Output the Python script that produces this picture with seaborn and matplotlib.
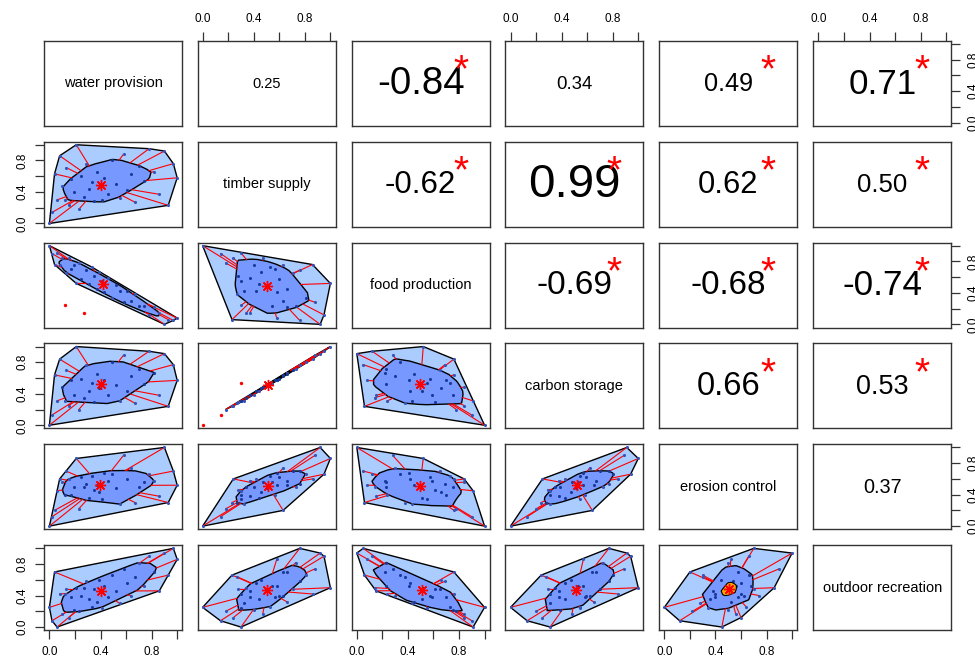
import numpy as np
import pandas as pd
import matplotlib
matplotlib.use("Agg")
import matplotlib.pyplot as plt
import seaborn as sns
from matplotlib.path import Path
from matplotlib.patches import Polygon

# ---------------- data (read/estimated from the reference) ----------------
variables = ["water provision", "timber supply", "food production",
             "carbon storage", "erosion control", "outdoor recreation"]

water_provision = [0.00, 0.02, 0.04, 0.06, 0.08, 0.10, 0.12, 0.13, 0.15, 0.17,
                   0.19, 0.21, 0.23, 0.25, 0.27, 0.29, 0.31, 0.33, 0.35, 0.37,
                   0.39, 0.41, 0.43, 0.46, 0.49, 0.52, 0.55, 0.58, 0.61, 0.64,
                   0.67, 0.70, 0.74, 0.78, 0.82, 0.86, 0.90, 0.93, 0.97, 1.00]
timber_supply = [0.00, 0.14, 0.63, 0.30, 0.86, 0.47, 0.30, 0.71, 0.24, 0.57,
                 0.40, 1.00, 0.18, 0.60, 0.34, 0.76, 0.44, 0.53, 0.28, 0.66,
                 0.46, 0.30, 0.58, 0.37, 0.81, 0.50, 0.32, 0.88, 0.42, 0.63,
                 0.27, 0.73, 0.54, 0.95, 0.66, 0.37, 0.92, 0.23, 0.76, 0.58]
food_production = [1.00, 0.90, 0.76, 0.91, 0.76, 0.84, 0.24, 0.65, 0.84, 0.70,
                   0.75, 0.52, 0.78, 0.57, 0.14, 0.69, 0.51, 0.73, 0.61, 0.45,
                   0.66, 0.55, 0.41, 0.59, 0.34, 0.50, 0.43, 0.28, 0.42, 0.30,
                   0.38, 0.23, 0.23, 0.12, 0.22, 0.15, 0.00, 0.06, 0.05, 0.08]
carbon_storage = [0.00, 0.13, 0.64, 0.31, 0.84, 0.48, 0.31, 0.70, 0.25, 0.58,
                  0.39, 1.00, 0.20, 0.59, 0.35, 0.77, 0.43, 0.54, 0.29, 0.65,
                  0.47, 0.54, 0.57, 0.38, 0.80, 0.51, 0.31, 0.89, 0.43, 0.62,
                  0.28, 0.72, 0.53, 0.94, 0.67, 0.38, 0.91, 0.24, 0.77, 0.57]
erosion_control = [0.00, 0.12, 0.20, 0.45, 0.60, 0.56, 0.40, 0.70, 0.60, 0.40,
                   0.50, 0.86, 0.22, 0.62, 0.50, 0.54, 0.36, 0.64, 0.46, 0.52,
                   0.44, 0.34, 0.68, 0.58, 0.66, 0.48, 0.28, 0.90, 0.60, 0.74,
                   0.30, 0.50, 0.56, 0.66, 0.58, 0.38, 1.00, 0.30, 0.70, 0.52]
outdoor_recreation = [0.25, 0.08, 0.70, 0.00, 0.42, 0.16, 0.42, 0.48, 0.12, 0.38,
                      0.22, 0.50, 0.20, 0.40, 0.50, 0.58, 0.36, 0.26, 0.48, 0.32,
                      0.60, 0.24, 0.52, 0.38, 0.66, 0.46, 0.30, 0.74, 0.56, 0.40,
                      0.64, 0.82, 0.52, 0.90, 0.70, 0.46, 0.94, 0.66, 1.00, 0.86]

# upper triangle, row by row
cor_values = [0.25, -0.84, 0.34, 0.49, 0.71,
              -0.62, 0.99, 0.62, 0.50,
              -0.69, -0.68, -0.74,
              0.66, 0.53,
              0.37]
cor_significant = [False, True, False, True, True,
                   True, True, True, True,
                   True, True, True,
                   True, True,
                   False]

tick_values = [0.0, 0.2, 0.4, 0.6, 0.8, 1.0]
tick_labels = ["0.0", "", "0.4", "", "0.8", ""]

df = pd.DataFrame({
    variables[0]: water_provision,
    variables[1]: timber_supply,
    variables[2]: food_production,
    variables[3]: carbon_storage,
    variables[4]: erosion_control,
    variables[5]: outdoor_recreation,
})

# ---------------- style ----------------
sns.set_style("white")
plt.rcParams["font.family"] = ["Liberation Sans", "DejaVu Sans"]

LOOP_COL = "#aaccff"
BAG_COL = "#7799ff"
LOOP_PTS = "#3355bb"
BAG_PTS = "#1a3a99"
FRAME = "#333333"

# ---------------- bagplot helpers ----------------
ANG = np.linspace(0, 2 * np.pi, 360, endpoint=False)
DIRS = np.column_stack([np.cos(ANG), np.sin(ANG)])
TH_BASE = np.linspace(-np.pi, np.pi, 1441)


def point_depths(P):
    proj = P @ DIRS.T
    cnt = (proj[None, :, :] >= proj[:, None, :] - 1e-12).sum(axis=1)
    return cnt.min(axis=1)


def clip(poly, u, h):
    out = []
    m = len(poly)
    for i in range(m):
        a = poly[i]
        b = poly[(i + 1) % m]
        da = u @ a - h
        db = u @ b - h
        if da <= 0:
            out.append(a)
        if da * db < 0:
            t = da / (da - db)
            out.append(a + t * (b - a))
    return out


def poly_area(p):
    x, y = p[:, 0], p[:, 1]
    return 0.5 * abs(np.dot(x, np.roll(y, -1)) - np.dot(y, np.roll(x, -1)))


def centroid(p):
    x, y = p[:, 0], p[:, 1]
    x1, y1 = np.roll(x, -1), np.roll(y, -1)
    cr = x * y1 - x1 * y
    a = cr.sum() / 2
    if abs(a) < 1e-14:
        return p.mean(axis=0)
    return np.array([((x + x1) * cr).sum() / (6 * a), ((y + y1) * cr).sum() / (6 * a)])


def depth_region(P, k):
    proj = P @ DIRS.T
    s = -np.sort(-proj, axis=0)[k - 1]
    poly = [np.array(v, float) for v in [(-5, -5), (5, -5), (5, 5), (-5, 5)]]
    for j in range(len(DIRS)):
        poly = clip(poly, DIRS[j], s[j])
        if len(poly) < 3:
            return None
    return np.array(poly)


def radial(poly, c, thetas):
    a = poly
    b = np.roll(poly, -1, axis=0)
    e = b - a
    ac = a - c
    rs = []
    for th in thetas:
        dx, dy = np.cos(th), np.sin(th)
        det = dx * (-e[:, 1]) - dy * (-e[:, 0])
        with np.errstate(divide="ignore", invalid="ignore"):
            r = (ac[:, 0] * (-e[:, 1]) - ac[:, 1] * (-e[:, 0])) / det
            t = (dx * ac[:, 1] - dy * ac[:, 0]) / det
        ok = (np.abs(det) > 1e-12) & (t >= -1e-9) & (t <= 1 + 1e-9) & (r >= 0)
        rs.append(r[ok].max() if ok.any() else 0.0)
    return np.array(rs)


def convex_hull(pts):
    pts = sorted(set(map(tuple, pts)))
    if len(pts) < 3:
        return np.array(pts)

    def cross(o, a, b):
        return (a[0] - o[0]) * (b[1] - o[1]) - (a[1] - o[1]) * (b[0] - o[0])
    lower, upper = [], []
    for p in pts:
        while len(lower) >= 2 and cross(lower[-2], lower[-1], p) <= 0:
            lower.pop()
        lower.append(p)
    for p in reversed(pts):
        while len(upper) >= 2 and cross(upper[-2], upper[-1], p) <= 0:
            upper.pop()
        upper.append(p)
    return np.array(lower[:-1] + upper[:-1])


def bagplot(ax, xcol, ycol, show_median_region=False):
    P = df[[xcol, ycol]].to_numpy(float)
    n = len(P)
    dep = point_depths(P)
    regions = {}
    k = 1
    while True:
        R = depth_region(P, k)
        if R is None or len(R) < 3 or poly_area(R) < 1e-9:
            break
        regions[k] = R
        k += 1
    kmax = max(regions)
    med = regions[kmax]
    c = centroid(med)
    counts = {kk: int(np.sum(dep >= kk)) for kk in regions}
    kb = max([kk for kk in regions if counts[kk] >= n / 2] or [1])
    # angles: uniform grid plus the exact directions of the region vertices
    extra = [regions[kb]] + ([regions[kb + 1]] if kb + 1 in regions else [])
    vert_ang = np.concatenate([np.arctan2(R[:, 1] - c[1], R[:, 0] - c[0]) for R in extra])
    TH = np.unique(np.concatenate([TH_BASE, vert_ang]))
    r_out = radial(regions[kb], c, TH)
    if kb + 1 in regions:
        r_in = radial(regions[kb + 1], c, TH)
        n_in = counts[kb + 1]
    else:
        r_in = np.zeros_like(r_out)
        n_in = 0
    lam = (n / 2 - n_in) / max(counts[kb] - n_in, 1)
    lam = min(max(lam, 0), 1)
    r_bag = r_in + lam * (r_out - r_in)
    dirs = np.column_stack([np.cos(TH), np.sin(TH)])
    bag = c + r_bag[:, None] * dirs
    fence = c + 3 * r_bag[:, None] * dirs
    outlier = ~Path(fence).contains_points(P)
    loop = convex_hull(P[~outlier])
    inbag = Path(bag).contains_points(P, radius=1e-6)
    if not inbag.any():
        inbag = Path(bag).contains_points(P, radius=-1e-6)

    ax.add_patch(Polygon(loop, closed=True, fc=LOOP_COL, ec="black", lw=1.0, zorder=1))
    ax.add_patch(Polygon(bag, closed=True, fc=BAG_COL, ec="black", lw=1.0, zorder=2))
    for i in range(n):
        if outlier[i] or inbag[i]:
            continue
        v = P[i] - c
        ang = np.arctan2(v[1], v[0])
        rb = np.interp(ang, TH, r_bag)
        end = c + rb * np.array([np.cos(ang), np.sin(ang)])
        ax.plot([P[i, 0], end[0]], [P[i, 1], end[1]], color="red", lw=0.8, zorder=3)
    out_mask = ~inbag & ~outlier
    sns.scatterplot(x=P[out_mask, 0], y=P[out_mask, 1], ax=ax,
                    color=LOOP_PTS, s=5, linewidth=0, zorder=4)
    sns.scatterplot(x=P[inbag, 0], y=P[inbag, 1], ax=ax,
                    color=BAG_PTS, s=5, linewidth=0, zorder=4)
    if outlier.any():
        sns.scatterplot(x=P[outlier, 0], y=P[outlier, 1], ax=ax,
                        color="red", s=6, linewidth=0, zorder=4)
    if show_median_region:
        region = c + 0.3 * r_bag[:, None] * dirs
        hull = convex_hull(region)
        ax.add_patch(Polygon(hull, closed=True, fc="orange", ec="black", lw=0.8, zorder=5))
    ax.plot([c[0]], [c[1]], marker=(8, 2, 0), color="red", ms=8, mew=1.0, zorder=6)


# ---------------- layout ----------------
W_PX, H_PX = 975, 662
fig = plt.figure(figsize=(W_PX / 100, H_PX / 100), dpi=100)
lefts = [44.3, 197.5, 351.7, 505.4, 659.2, 813.3]
tops = [40.7, 141.6, 242.5, 343.4, 444.3, 545.2]
pw, ph = 138.0, 85.0

nv = len(variables)
cor_idx = 0
for i in range(nv):
    for j in range(nv):
        ax = fig.add_axes([lefts[j] / W_PX, 1 - (tops[i] + ph) / H_PX, pw / W_PX, ph / H_PX])
        ax.set_facecolor("white")
        if i > j:
            bagplot(ax, variables[j], variables[i],
                    show_median_region=(i == nv - 1 and j == nv - 2))
        elif i == j:
            ax.text(0.5, 0.5, variables[i], ha="center", va="center", fontsize=10.5,
                    transform=ax.transAxes, color="black")
        else:
            r = cor_values[cor_idx]
            sig = cor_significant[cor_idx]
            cor_idx += 1
            fs = (32 * abs(r) + 2.5) if r >= 0 else (24 * abs(r) + 7.5)
            ax.text(0.5, 0.49, f"{r:.2f}", ha="center", va="center", fontsize=fs,
                    transform=ax.transAxes, color="black")
            if sig:
                ax.text(0.79, 0.64, "*", ha="center", va="center", fontsize=28,
                        color="red", transform=ax.transAxes)
        ax.set_xlim(-0.04, 1.04)
        ax.set_ylim(-0.04, 1.04)
        ax.set_xlabel("")
        ax.set_ylabel("")
        for sp in ax.spines.values():
            sp.set_visible(True)
            sp.set_color(FRAME)
            sp.set_linewidth(1.0)
        ax.set_xticks(tick_values)
        ax.set_yticks(tick_values)
        ax.set_xticklabels(tick_labels)
        ax.set_yticklabels(tick_labels, rotation=90, va="center")
        ax.tick_params(which="both", bottom=False, top=False, left=False, right=False,
                       labelbottom=False, labeltop=False, labelleft=False, labelright=False,
                       length=6.5, width=0.9, color=FRAME, labelsize=8.5, pad=5,
                       direction="out", labelcolor="black")
        if i == 0 and j % 2 == 1:
            ax.tick_params(axis="x", top=True, labeltop=True)
        if i == nv - 1 and j % 2 == 0:
            ax.tick_params(axis="x", bottom=True, labelbottom=True)
        if j == 0 and i % 2 == 1:
            ax.tick_params(axis="y", left=True, labelleft=True)
        if j == nv - 1 and i % 2 == 0:
            ax.tick_params(axis="y", right=True, labelright=True)

fig.savefig("out.png", dpi=100)
